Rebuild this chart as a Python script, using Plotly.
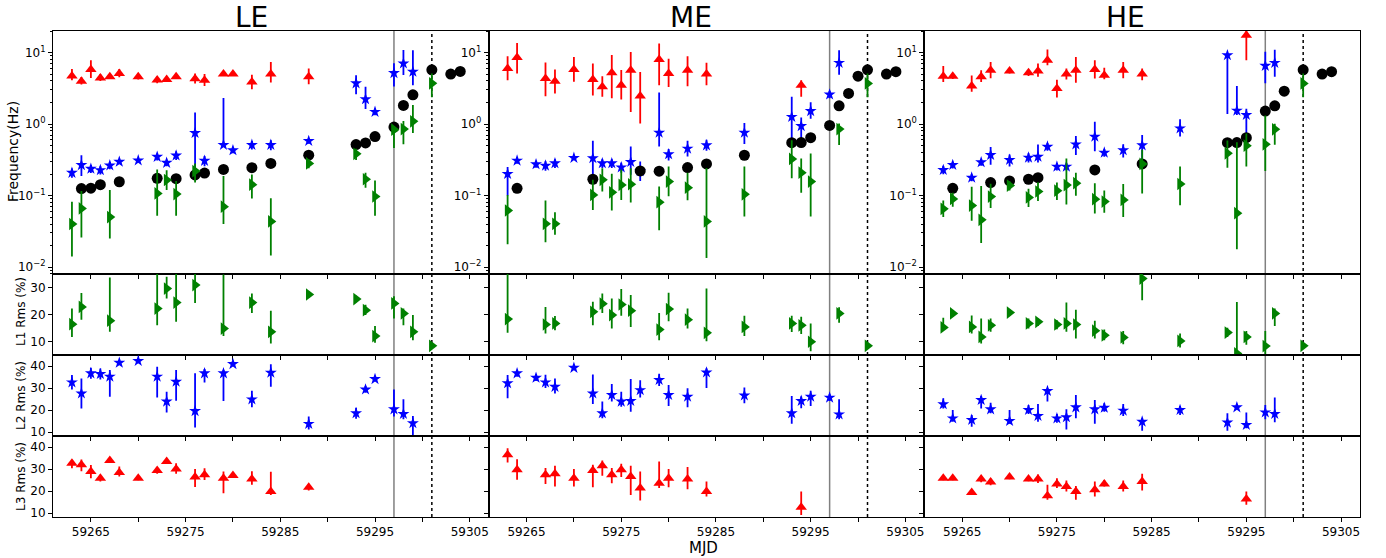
import plotly.graph_objects as go
from plotly.subplots import make_subplots

# ======================= DATA =======================
# ---------- LE ----------
LE_BLACK_MJD = [59264, 59265, 59266, 59268, 59272, 59274, 59276, 59277, 59279, 59282, 59284, 59288,
                59293, 59294, 59295, 59297, 59298, 59299, 59301, 59303, 59304]
LE_BLACK_FREQ = [0.125, 0.127, 0.142, 0.156, 0.174, 0.172, 0.194, 0.206, 0.232, 0.245, 0.281, 0.367,
                 0.516, 0.545, 0.667, 0.908, 1.82, 2.56, 5.74, 5.0, 5.45]

LE_L1_MJD = [59263, 59264, 59267, 59272, 59273, 59274, 59276, 59279, 59282, 59284, 59288, 59293,
             59294, 59295, 59297, 59298, 59299, 59301]
LE_L1_FREQ = [0.040, 0.066, 0.050, 0.107, 0.165, 0.105, 0.220, 0.070, 0.142, 0.0435, 0.281, 0.383,
              0.169, 0.097, 0.834, 0.85, 1.09, 3.71]
LE_L1_FREQ_EU = [0.042, 0.05, 0.07, 0.125, 0.06, 0.055, 0.06, 0.117, 0.055, 0.048, 0.04, 0.07,
                 0.04, 0.066, 0.1, 0.25, 0.76, 1.4]
LE_L1_FREQ_EL = [0.026, 0.04, 0.025, 0.055, 0.045, 0.053, 0.068, 0.03, 0.051, 0.029, 0.04, 0.07,
                 0.04, 0.045, 0.37, 0.33, 0.34, 1.34]
LE_L1_RMS = [16.4, 22.8, 17.7, 22.2, 29.6, 24.4, 30.9, 14.8, 24.4, 13.6, 27.4, 25.7,
             21.6, 12.0, 24.1, 20.4, 13.6, 8.4]
LE_L1_RMS_EU = [5.8, 5.2, 16.0, 14.0, 4.4, 11.0, 7.0, 20.0, 3.4, 7.8, 1.0, 1.2,
                2.0, 3.7, 2.7, 1.8, 6.2, 0.8]
LE_L1_RMS_EL = [4.7, 4.7, 4.1, 6.2, 3.7, 7.1, 6.6, 2.8, 3.8, 4.3, 1.0, 1.2,
                1.8, 2.5, 5.6, 4.4, 3.1, 0.8]

LE_L2_MJD = [59263, 59264, 59265, 59266, 59267, 59268, 59270, 59272, 59273, 59274, 59276, 59277,
             59279, 59280, 59282, 59284, 59288, 59293, 59294, 59295, 59297, 59298, 59299]
LE_L2_FREQ = [0.208, 0.267, 0.237, 0.227, 0.264, 0.297, 0.31, 0.348, 0.287, 0.363, 0.75, 0.306,
              0.511, 0.43, 0.511, 0.511, 0.58, 3.71, 2.22, 1.48, 5.16, 7.04, 5.39]
LE_L2_FREQ_EU = [0.03, 0.1, 0.03, 0.03, 0.03, 0.02, 0.02, 0.04, 0.03, 0.05, 0.7, 0.05,
                 1.8, 0.04, 0.07, 0.08, 0.05, 1.1, 1.1, 0.15, 1.9, 3.8, 5.4]
LE_L2_FREQ_EL = [0.03, 0.08, 0.03, 0.03, 0.03, 0.02, 0.02, 0.04, 0.03, 0.05, 0.5, 0.05,
                 0.02, 0.04, 0.07, 0.08, 0.05, 1.1, 0.6, 0.15, 1.8, 2.2, 1.9]
LE_L2_RMS = [32.6, 27.6, 36.7, 36.4, 35.2, 41.5, 42.3, 35.2, 23.9, 32.9, 19.6, 36.7,
             36.7, 40.9, 24.9, 37.0, 13.8, 18.6, 29.4, 34.1, 20.4, 18.3, 14.1]
LE_L2_RMS_EU = [3.3, 6.8, 2.5, 2.5, 3.0, 1.0, 1.0, 4.5, 4.5, 5.3, 17.1, 2.0,
                1.5, 1.0, 3.9, 3.8, 3.3, 2.5, 1.5, 1.0, 9.0, 6.6, 3.3]
LE_L2_RMS_EL = [3.2, 6.8, 2.5, 2.5, 9.1, 1.0, 1.0, 9.4, 5.0, 8.6, 7.4, 4.2,
                12.5, 1.0, 3.6, 6.4, 2.5, 2.5, 1.5, 1.0, 3.3, 2.4, 5.3]

LE_L3_MJD = [59263, 59264, 59265, 59266, 59267, 59268, 59270, 59272, 59273, 59274, 59276, 59277,
             59279, 59280, 59282, 59284, 59288]
LE_L3_FREQ = [4.69, 3.96, 5.8, 4.4, 4.6, 5.1, 4.6, 4.13, 4.2, 4.6, 4.3, 4.1,
              5.0, 5.0, 3.87, 5.0, 4.6]
LE_L3_FREQ_EU = [1.2, 0.6, 2.0, 0.6, 0.3, 0.8, 0.4, 0.5, 0.3, 0.3, 0.8, 0.9,
                 0.3, 0.3, 1.0, 2.4, 1.4]
LE_L3_FREQ_EL = [0.6, 0.4, 1.4, 0.4, 0.3, 0.6, 0.4, 0.4, 0.3, 0.3, 0.6, 0.7,
                 0.3, 0.3, 0.8, 1.2, 1.0]
LE_L3_RMS = [32.7, 32.0, 28.9, 25.9, 33.9, 28.5, 25.9, 29.4, 33.5, 30.0, 26.4, 27.4,
             25.9, 27.1, 25.5, 19.8, 21.8]
LE_L3_RMS_EU = [1.5, 2.3, 3.0, 1.5, 1.0, 2.7, 1.0, 1.5, 1.0, 2.7, 3.6, 3.0,
                3.0, 1.0, 3.5, 9.0, 1.5]
LE_L3_RMS_EL = [2.3, 3.0, 3.0, 1.5, 1.0, 1.8, 1.0, 1.5, 1.0, 2.1, 4.5, 2.3,
                6.8, 1.0, 2.6, 1.5, 1.5]

# ---------- ME ----------
ME_BLACK_MJD = [59264, 59272, 59277, 59279, 59282, 59284, 59288, 59293, 59294, 59295, 59297, 59298,
                59299, 59300, 59301, 59303, 59304]
ME_BLACK_FREQ = [0.126, 0.169, 0.221, 0.219, 0.246, 0.277, 0.366, 0.549, 0.55, 0.645, 0.957, 1.8,
                 2.68, 4.67, 5.73, 5.0, 5.4]

ME_L1_MJD = [59263, 59267, 59268, 59272, 59273, 59274, 59275, 59276, 59279, 59280, 59282, 59284,
             59288, 59293, 59294, 59295, 59298, 59301]
ME_L1_FREQ = [0.0618, 0.0402, 0.0402, 0.102, 0.166, 0.111, 0.141, 0.144, 0.0807, 0.157, 0.129, 0.0434,
              0.104, 0.325, 0.209, 0.157, 0.851, 3.7]
ME_L1_FREQ_EU = [0.04, 0.045, 0.018, 0.064, 0.074, 0.09, 0.09, 0.096, 0.053, 0.097, 0.08, 0.2,
                 0.15, 0.27, 0.12, 0.23, 0.17, 1.4]
ME_L1_FREQ_EL = [0.041, 0.018, 0.012, 0.039, 0.052, 0.049, 0.054, 0.064, 0.048, 0.059, 0.043, 0.03,
                 0.053, 0.15, 0.1, 0.106, 0.34, 1.34]
ME_L1_RMS = [18.3, 16.3, 16.7, 21.0, 24.0, 19.8, 23.7, 21.4, 14.4, 22.0, 18.1, 13.2,
             15.4, 16.7, 16.0, 9.9, 20.4, 8.4]
ME_L1_RMS_EU = [17.0, 6.5, 2.7, 3.7, 3.8, 6.1, 5.7, 5.8, 6.2, 6.1, 4.1, 16.4,
                4.1, 2.8, 3.2, 6.8, 2.3, 0.8]
ME_L1_RMS_EL = [5.1, 3.3, 2.5, 5.0, 3.4, 5.0, 4.2, 6.0, 3.9, 4.5, 3.3, 3.1,
                3.4, 3.2, 3.2, 3.5, 3.5, 0.8]

ME_L2_MJD = [59263, 59264, 59266, 59267, 59268, 59270, 59272, 59273, 59274, 59275, 59276, 59277,
             59279, 59280, 59282, 59284, 59288, 59293, 59294, 59295, 59297, 59298]
ME_L2_FREQ = [0.2, 0.308, 0.274, 0.262, 0.283, 0.336, 0.333, 0.283, 0.283, 0.248, 0.295, 0.22,
              0.757, 0.378, 0.453, 0.504, 0.757, 1.26, 0.938, 1.52, 2.59, 7.17]
ME_L2_FREQ_EU = [0.05, 0.03, 0.03, 0.04, 0.04, 0.02, 0.25, 0.04, 0.04, 0.04, 0.19, 0.08,
                 2.0, 0.07, 0.13, 0.1, 0.28, 1.15, 0.3, 0.5, 0.3, 3.6]
ME_L2_FREQ_EL = [0.1, 0.03, 0.03, 0.04, 0.04, 0.02, 0.15, 0.04, 0.04, 0.04, 0.1, 0.06,
                 0.27, 0.07, 0.1, 0.08, 0.23, 0.73, 0.3, 0.33, 0.3, 2.3]
ME_L2_RMS = [32.2, 36.7, 34.7, 32.6, 30.6, 39.2, 27.6, 18.6, 26.9, 23.9, 24.2, 29.1,
             33.7, 26.9, 26.1, 37.1, 26.7, 18.6, 24.2, 26.1, 25.7, 18.1]
ME_L2_RMS_EU = [3.7, 1.5, 1.5, 3.4, 3.7, 1.0, 8.6, 5.3, 5.0, 4.5, 9.9, 4.5,
                2.8, 4.5, 3.8, 1.8, 3.6, 7.8, 2.0, 2.7, 1.5, 6.8]
ME_L2_RMS_EL = [6.8, 1.5, 1.5, 2.6, 3.0, 1.0, 4.8, 2.3, 3.0, 2.3, 4.9, 3.3,
                2.8, 5.0, 4.8, 7.1, 3.6, 4.8, 3.3, 4.2, 1.5, 2.2]

ME_L3_MJD = [59263, 59264, 59267, 59268, 59270, 59272, 59273, 59274, 59275, 59276, 59277, 59279,
             59280, 59282, 59284, 59294]
ME_L3_FREQ = [5.98, 8.51, 4.34, 3.98, 5.79, 4.2, 3.32, 5.2, 3.5, 5.67, 2.46, 7.99,
              5.1, 5.67, 4.99, 3.5]
ME_L3_FREQ_EU = [2.9, 5.1, 2.9, 1.8, 2.9, 2.8, 1.35, 4.0, 2.2, 4.5, 2.9, 5.4,
                 3.1, 3.2, 2.2, 0.6]
ME_L3_FREQ_EL = [1.9, 3.4, 1.9, 1.3, 1.9, 1.7, 0.92, 2.9, 1.3, 4.2, 1.44, 4.5,
                 1.8, 2.3, 1.5, 1.1]
ME_L3_RMS = [36.5, 29.7, 27.4, 27.9, 25.9, 29.4, 31.5, 27.4, 29.7, 26.7, 21.4, 23.6,
             25.9, 25.5, 19.8, 12.7]
ME_L3_RMS_EU = [3.0, 4.8, 3.1, 3.6, 4.1, 2.6, 2.4, 3.1, 2.7, 4.8, 7.5, 9.9,
                4.1, 5.4, 4.6, 7.1]
ME_L3_RMS_EL = [3.5, 4.5, 4.1, 5.8, 3.8, 7.6, 4.5, 3.8, 3.3, 8.4, 5.6, 2.2,
                4.1, 4.6, 2.2, 3.5]

# ---------- HE ----------
HE_BLACK_MJD = [59264, 59268, 59270, 59272, 59273, 59279, 59284, 59293, 59294, 59295, 59297, 59298,
                59299, 59301, 59303, 59304]
HE_BLACK_FREQ = [0.126, 0.152, 0.16, 0.169, 0.178, 0.228, 0.277, 0.549, 0.55, 0.645, 1.52, 1.8,
                 2.88, 5.73, 5.0, 5.4]

HE_L1_MJD = [59263, 59264, 59266, 59267, 59268, 59270, 59272, 59273, 59275, 59276, 59277, 59279,
             59280, 59282, 59284, 59288, 59293, 59294, 59295, 59297, 59298, 59301]
HE_L1_FREQ = [0.0652, 0.0898, 0.0725, 0.0457, 0.0968, 0.138, 0.094, 0.114, 0.117, 0.14, 0.149, 0.089,
              0.0824, 0.087, 0.277, 0.145, 0.39, 0.0567, 0.499, 0.52, 0.843, 3.7]
HE_L1_FREQ_EU = [0.02, 0.02, 0.06, 0.09, 0.05, 0.02, 0.03, 0.04, 0.035, 0.19, 0.06, 0.06,
                 0.035, 0.058, 0.16, 0.11, 0.2, 0.5, 0.24, 0.8, 0.17, 1.4]
HE_L1_FREQ_EL = [0.015, 0.02, 0.028, 0.024, 0.03, 0.02, 0.025, 0.03, 0.03, 0.065, 0.05, 0.033,
                 0.025, 0.037, 0.17, 0.072, 0.145, 0.039, 0.245, 0.3, 0.33, 1.34]
HE_L1_RMS = [15.2, 20.4, 15.4, 11.7, 16.0, 20.7, 16.7, 17.3, 16.3, 16.7, 16.3, 14.0,
             12.3, 11.5, 33.3, 10.2, 13.3, 5.6, 11.7, 8.3, 20.4, 8.4]
HE_L1_RMS_EU = [3.6, 1.2, 4.2, 6.8, 2.5, 1.2, 1.8, 1.2, 1.6, 7.7, 5.5, 3.7,
                2.1, 2.4, 8.0, 2.8, 1.8, 19.0, 2.2, 5.6, 1.8, 0.8]
HE_L1_RMS_EL = [1.0, 1.2, 2.4, 2.4, 2.4, 1.2, 1.9, 1.6, 1.8, 3.1, 5.2, 2.9,
                1.8, 2.5, 8.0, 2.4, 1.6, 1.5, 2.9, 4.2, 4.7, 0.8]

HE_L2_MJD = [59263, 59264, 59266, 59267, 59268, 59270, 59272, 59273, 59274, 59275, 59276, 59277,
             59279, 59280, 59282, 59284, 59288, 59293, 59294, 59295, 59297, 59298]
HE_L2_FREQ = [0.228, 0.268, 0.178, 0.292, 0.369, 0.315, 0.339, 0.349, 0.483, 0.254, 0.254, 0.52,
              0.666, 0.398, 0.43, 0.504, 0.87, 9.18, 1.54, 1.34, 6.52, 7.17]
HE_L2_FREQ_EU = [0.03, 0.03, 0.02, 0.03, 0.11, 0.06, 0.05, 0.17, 0.06, 0.03, 0.03, 0.16,
                 0.41, 0.05, 0.09, 0.2, 0.3, 0.5, 1.85, 0.3, 3.7, 3.8]
HE_L2_FREQ_EL = [0.03, 0.03, 0.02, 0.03, 0.1, 0.06, 0.05, 0.06, 0.06, 0.03, 0.03, 0.15,
                 0.25, 0.05, 0.09, 0.19, 0.2, 7.8, 0.2, 0.68, 2.8, 2.6]
HE_L2_RMS = [22.7, 16.3, 15.6, 24.6, 20.4, 15.1, 20.1, 17.4, 28.7, 16.3, 16.8, 21.3,
             20.4, 21.1, 19.8, 14.8, 20.1, 14.4, 21.3, 13.3, 19.0, 18.3]
HE_L2_RMS_EU = [2.7, 3.8, 2.2, 1.8, 3.0, 5.0, 2.3, 5.4, 1.2, 2.0, 3.6, 5.6,
                4.2, 2.0, 3.0, 1.5, 1.8, 4.2, 1.0, 5.7, 3.4, 7.4]
HE_L2_RMS_EL = [1.9, 1.5, 3.1, 3.8, 1.8, 1.3, 1.8, 2.6, 4.8, 2.0, 5.5, 5.0,
                6.6, 1.8, 2.4, 4.1, 2.3, 3.7, 1.0, 1.5, 3.1, 3.8]

HE_L3_MJD = [59263, 59264, 59266, 59267, 59268, 59270, 59272, 59273, 59274, 59275, 59276, 59277,
             59279, 59280, 59282, 59284, 59295]
HE_L3_FREQ = [4.67, 4.67, 3.39, 4.57, 5.67, 5.5, 5.2, 5.5, 7.82, 3.15, 5.0, 5.67,
              5.79, 4.83, 5.67, 5.0, 17.5]
HE_L3_FREQ_EU = [1.8, 0.4, 1.4, 1.1, 1.7, 0.4, 0.5, 1.5, 3.2, 1.0, 1.0, 3.0,
                 2.0, 1.3, 1.7, 1.0, 9.7]
HE_L3_FREQ_EL = [0.8, 0.4, 0.56, 0.7, 1.3, 0.4, 0.5, 0.9, 1.2, 0.8, 0.8, 1.9,
                 1.45, 0.6, 1.3, 0.9, 9.7]
HE_L3_RMS = [25.9, 25.9, 19.4, 25.5, 24.2, 26.4, 25.5, 25.5, 17.9, 23.3, 22.1, 19.8,
             20.6, 23.3, 22.1, 24.4, 16.4]
HE_L3_RMS_EU = [1.0, 1.0, 1.0, 1.5, 1.5, 1.0, 1.0, 2.0, 5.0, 2.6, 2.7, 2.6,
                3.8, 1.8, 2.7, 3.5, 3.4]
HE_L3_RMS_EL = [1.0, 1.0, 1.0, 1.5, 1.5, 1.0, 1.0, 1.8, 1.8, 1.9, 2.3, 3.7,
                3.0, 1.2, 2.3, 4.1, 2.6]

INSTRUMENTS = ["LE", "ME", "HE"]
X_MAJOR_TICKS = [59265, 59275, 59285, 59295, 59305]
X_MAJOR_TEXT = ["59265", "59275", "59285", "59295", "59305"]
X_MINOR_TICKS = [59270, 59280, 59290, 59300]
T_SOLID = 59297
T_DOTTED = 59301

# ======================= FIGURE =======================
FONT = "DejaVu Sans"
fig = make_subplots(rows=4, cols=3, row_heights=[0.5, 1 / 6, 1 / 6, 1 / 6],
                    horizontal_spacing=0, vertical_spacing=0)

data = {
    "LE": dict(black=(LE_BLACK_MJD, LE_BLACK_FREQ),
               L1=(LE_L1_MJD, LE_L1_FREQ, LE_L1_FREQ_EU, LE_L1_FREQ_EL, LE_L1_RMS, LE_L1_RMS_EU, LE_L1_RMS_EL),
               L2=(LE_L2_MJD, LE_L2_FREQ, LE_L2_FREQ_EU, LE_L2_FREQ_EL, LE_L2_RMS, LE_L2_RMS_EU, LE_L2_RMS_EL),
               L3=(LE_L3_MJD, LE_L3_FREQ, LE_L3_FREQ_EU, LE_L3_FREQ_EL, LE_L3_RMS, LE_L3_RMS_EU, LE_L3_RMS_EL)),
    "ME": dict(black=(ME_BLACK_MJD, ME_BLACK_FREQ),
               L1=(ME_L1_MJD, ME_L1_FREQ, ME_L1_FREQ_EU, ME_L1_FREQ_EL, ME_L1_RMS, ME_L1_RMS_EU, ME_L1_RMS_EL),
               L2=(ME_L2_MJD, ME_L2_FREQ, ME_L2_FREQ_EU, ME_L2_FREQ_EL, ME_L2_RMS, ME_L2_RMS_EU, ME_L2_RMS_EL),
               L3=(ME_L3_MJD, ME_L3_FREQ, ME_L3_FREQ_EU, ME_L3_FREQ_EL, ME_L3_RMS, ME_L3_RMS_EU, ME_L3_RMS_EL)),
    "HE": dict(black=(HE_BLACK_MJD, HE_BLACK_FREQ),
               L1=(HE_L1_MJD, HE_L1_FREQ, HE_L1_FREQ_EU, HE_L1_FREQ_EL, HE_L1_RMS, HE_L1_RMS_EU, HE_L1_RMS_EL),
               L2=(HE_L2_MJD, HE_L2_FREQ, HE_L2_FREQ_EU, HE_L2_FREQ_EL, HE_L2_RMS, HE_L2_RMS_EU, HE_L2_RMS_EL),
               L3=(HE_L3_MJD, HE_L3_FREQ, HE_L3_FREQ_EU, HE_L3_FREQ_EL, HE_L3_RMS, HE_L3_RMS_EU, HE_L3_RMS_EL)),
}

STYLE = {
    "L1": dict(color="green", symbol="triangle-right", size=11, rms_row=2),
    "L2": dict(color="blue", symbol="star", size=9, rms_row=3),
    "L3": dict(color="red", symbol="triangle-up", size=10, rms_row=4),
}


def err(eu, el, color):
    return dict(type="data", symmetric=False, array=eu, arrayminus=el,
                color=color, thickness=1.8, width=0)


def add_series(col, key, d):
    st = STYLE[key]
    mjd, f, feu, fel, r, reu, rel = d
    mk = dict(color=st["color"], symbol=st["symbol"], size=st["size"], line=dict(width=0))
    fig.add_trace(go.Scatter(x=mjd, y=f, mode="markers", marker=mk,
                             error_y=err(feu, fel, st["color"]), showlegend=False),
                  row=1, col=col)
    fig.add_trace(go.Scatter(x=mjd, y=r, mode="markers", marker=mk,
                             error_y=err(reu, rel, st["color"]), showlegend=False),
                  row=st["rms_row"], col=col)


for ci, inst in enumerate(INSTRUMENTS, start=1):
    d = data[inst]
    add_series(ci, "L3", d["L3"])
    add_series(ci, "L2", d["L2"])
    bm, bf = d["black"]
    fig.add_trace(go.Scatter(x=bm, y=bf, mode="markers",
                             marker=dict(color="black", symbol="circle", size=11, line=dict(width=0)),
                             showlegend=False), row=1, col=ci)
    add_series(ci, "L1", d["L1"])

# axes
minor_vals = []
for dec in [0.001, 0.01, 0.1, 1, 10]:
    for m in range(2, 10):
        minor_vals.append(dec * m)

tickfont = dict(family=FONT, size=12, color="black")
for row in range(1, 5):
    for col in range(1, 4):
        fig.update_xaxes(range=[59261, 59307], tickmode="array", tickvals=X_MAJOR_TICKS,
                         ticktext=X_MAJOR_TEXT,
                         ticks="outside", ticklen=4, tickwidth=1,
                         tickcolor="black", showticklabels=(row == 4), showgrid=False,
                         minor=dict(ticks="outside", ticklen=4, tickwidth=1, tickcolor="black",
                                    tickmode="array", tickvals=X_MINOR_TICKS),
                         zeroline=False, showline=True, mirror=True, linecolor="black",
                         linewidth=1, tickfont=tickfont, row=row, col=col)
        if row == 1:
            fig.update_yaxes(type="log", range=[-2.097, 1.301], tickmode="array",
                             tickvals=[0.01, 0.1, 1, 10],
                             ticktext=["10<sup>\u22122</sup>", "10<sup>\u22121</sup>",
                                       "10<sup>0</sup>", "10<sup>1</sup>"],
                             minor=dict(ticks="outside", ticklen=2, tickwidth=0.8,
                                        tickcolor="black", tickmode="array", tickvals=minor_vals),
                             row=row, col=col)
        elif row == 2:
            fig.update_yaxes(range=[5, 35], tickmode="array", tickvals=[10, 20, 30],
                             ticktext=["10", "20", "30"],
                             showticklabels=(col == 1), row=row, col=col)
        else:
            fig.update_yaxes(range=[8.3, 45], tickmode="array", tickvals=[10, 20, 30, 40],
                             ticktext=["10", "20", "30", "40"],
                             showticklabels=(col == 1), row=row, col=col)
        fig.update_yaxes(ticks="outside", ticklen=4, tickwidth=1, tickcolor="black",
                         showgrid=False, zeroline=False, showline=True, mirror=True,
                         linecolor="black", linewidth=1, tickfont=tickfont, row=row, col=col)

# vertical reference lines
for ci in range(1, 4):
    xref = "x%d" % (9 + ci)
    fig.add_shape(type="line", xref=xref, yref="paper", x0=T_SOLID, x1=T_SOLID, y0=0, y1=1,
                  line=dict(color="#808080", width=1.5), layer="below")
    fig.add_shape(type="line", xref=xref, yref="paper", x0=T_DOTTED, x1=T_DOTTED, y0=0, y1=1,
                  line=dict(color="black", width=1.5, dash="dot"), layer="below")

# texts
W, H = 1386, 558
ML, MR, MT, MB = 53, 26, 31, 41
PW, PH = W - ML - MR, H - MT - MB


def px(xp):
    return (xp - ML) / PW


def py(yp):
    return (H - MB - yp) / PH


anns = []
for name, xc in zip(INSTRUMENTS, [251, 691, 1125]):
    anns.append(dict(text=name, x=px(xc), y=py(17), xref="paper", yref="paper",
                     showarrow=False, font=dict(family=FONT, size=28, color="black"),
                     xanchor="center", yanchor="middle"))
anns.append(dict(text="Frequency(Hz)", x=px(13), y=py(152), xref="paper", yref="paper",
                 showarrow=False, textangle=-90, font=dict(family=FONT, size=14, color="black"),
                 xanchor="center", yanchor="middle"))
for lab, yc in [("L1 Rms (%)", 312), ("L2 Rms (%)", 396), ("L3 Rms (%)", 477)]:
    anns.append(dict(text=lab, x=px(21), y=py(yc), xref="paper", yref="paper",
                     showarrow=False, textangle=-90, font=dict(family=FONT, size=12, color="black"),
                     xanchor="center", yanchor="middle"))
anns.append(dict(text="MJD", x=px(703), y=py(548), xref="paper", yref="paper",
                 showarrow=False, font=dict(family=FONT, size=15, color="black"),
                 xanchor="center", yanchor="middle"))

fig.update_layout(width=W, height=H, margin=dict(l=ML, r=MR, t=MT, b=MB),
                  paper_bgcolor="white", plot_bgcolor="white", showlegend=False,
                  annotations=anns, font=dict(family=FONT))

fig.write_html("out.html")
